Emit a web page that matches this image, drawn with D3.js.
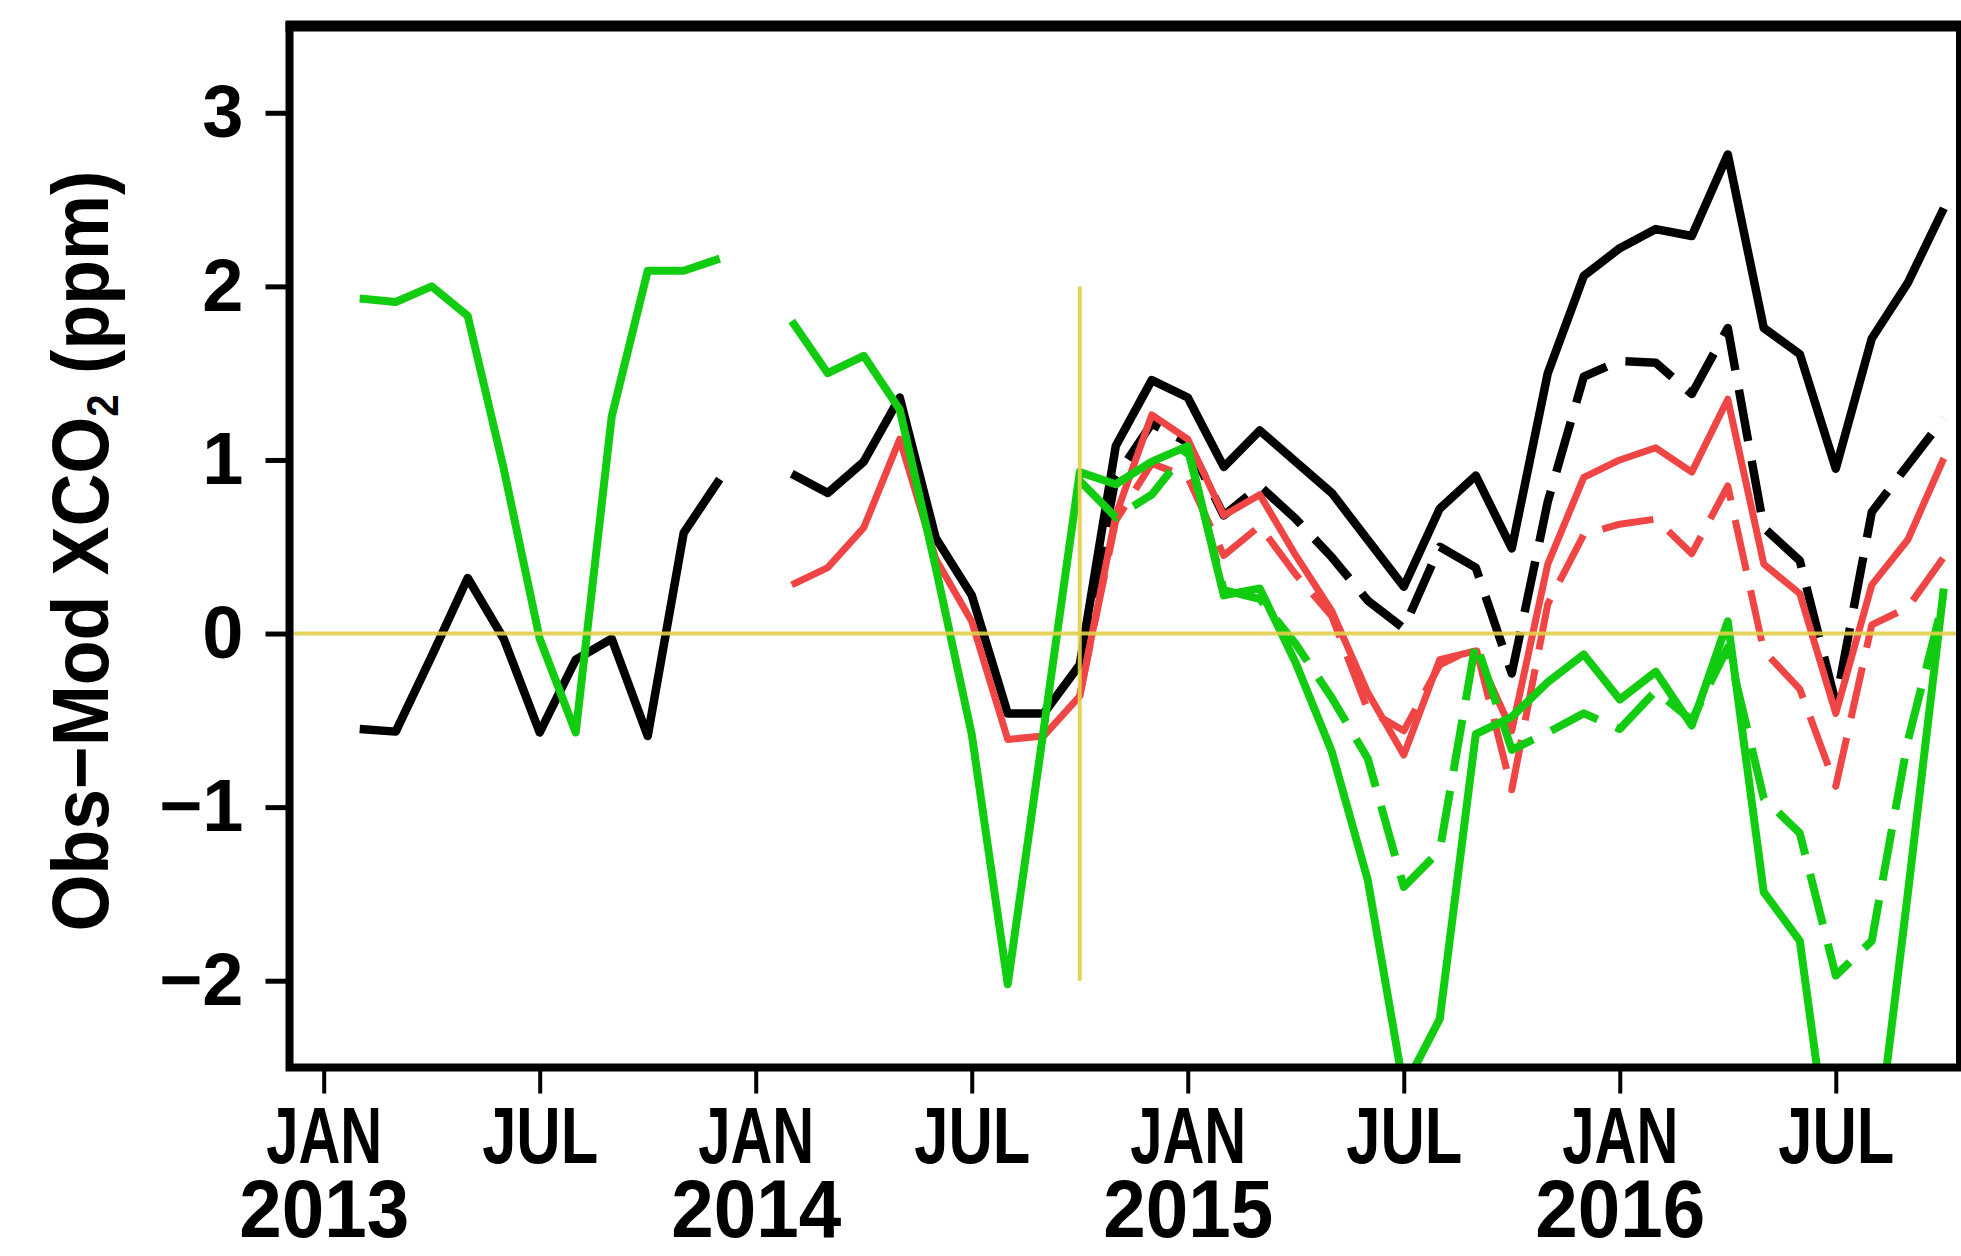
<!DOCTYPE html>
<html><head><meta charset="utf-8">
<script src="https://cdn.jsdelivr.net/npm/d3@7"></script>
<style>html,body{margin:0;padding:0;background:#fff;overflow:hidden}</style>
</head><body>
<svg id="chart" width="1961" height="1256"></svg>
<script>
// Month index 0 = JAN 2013
const xTickMonths = [0, 6, 12, 18, 24, 30, 36, 42];
const xTickLabels = ["JAN", "JUL", "JAN", "JUL", "JAN", "JUL", "JAN", "JUL"];
const yearLabels = ["2013", "", "2014", "", "2015", "", "2016", ""];
const yTicks = [3, 2, 1, 0, -1, -2];
const yTickLabels = ["3", "2", "1", "0", "\u22121", "\u22122"];
const yTitleParts = ["Obs\u2212Mod  XCO", "2", "  (ppm)"];

const blackSolid = [null, -0.55, -0.565, -0.13, 0.32, -0.03, -0.57, -0.15, -0.03, -0.59, 0.58, 0.89,
  null, 0.92, 0.81, 0.99, 1.36, 0.55, 0.22, -0.46, -0.46, -0.18,
  1.08, 1.46, 1.36, 0.96, 1.17, 0.99, 0.81, 0.54, 0.27, 0.72, 0.91, 0.49, 1.50, 2.06, 2.22, 2.33, 2.29, 2.76, 1.76, 1.61, 0.95, 1.70, 2.02, 2.45];
const blackDashed = [null, null, null, null, null, null, null, null, null, null, null, null,
  null, null, null, null, null, null, null, null, null,
  -0.20, 0.90, 1.21, 1.10, 0.68, 0.85, 0.66, 0.44, 0.19, 0.03, 0.50, 0.38, -0.23, 0.76, 1.48, 1.57, 1.56, 1.38, 1.76, 0.61, 0.42, -0.40, 0.70, 0.97, 1.24];
const redSolid = [null, null, null, null, null, null, null, null, null, null, null, null,
  null, 0.28, 0.38, 0.61, 1.12, 0.43, 0.07, -0.61, -0.59, -0.36,
  0.68, 1.26, 1.12, 0.68, 0.80, 0.45, 0.13, -0.34, -0.70, -0.15, -0.10, -0.56, 0.40, 0.90, 1.00, 1.07, 0.93, 1.35, 0.40, 0.23, -0.46, 0.28, 0.54, 1.01];
const redDashed = [null, null, null, null, null, null, null, null, null, null, null, null,
  null, null, null, null, null, null, null, null, null,
  -0.36, 0.65, 0.98, 0.90, 0.45, 0.62, 0.34, 0.10, -0.44, -0.56, -0.18, -0.08, -0.90, 0.17, 0.57, 0.63, 0.66, 0.46, 0.85, -0.10, -0.32, -0.88, 0.05, 0.15, 0.44];
const greenSolid = [null, 1.93, 1.91, 2.00, 1.83, 0.95, -0.03, -0.57, 1.25, 2.09, 2.09, 2.16,
  null, 1.80, 1.50, 1.60, 1.29, 0.38, -0.58, -2.02, -0.55, 0.93,
  0.86, 0.99, 1.08, 0.22, 0.26, -0.17, -0.68, -1.42, -2.62, -2.22, -0.58, -0.48, -0.28, -0.12, -0.38, -0.22, -0.53, 0.07, -1.49, -1.77, -3.30, -3.20, -1.50, 0.26];
const greenDashed = [null, null, null, null, null, null, null, null, null, null, null, null,
  null, null, null, null, null, null, null, null, null,
  0.88, 0.67, 0.80, 1.06, 0.25, 0.20, -0.06, -0.37, -0.72, -1.46, -1.25, -0.05, -0.67, -0.57, -0.46, -0.55, -0.33, -0.50, -0.08, -0.95, -1.15, -1.97, -1.77, -0.62, 0.20];

const zeroLineValue = 0;
const markerMonth = 21;
const markerRange = [-2, 2];

const series = [
  {values: blackDashed, color: "#000000", width: 8.5, dash: "52,20"},
  {values: blackSolid, color: "#000000", width: 8.5, dash: null},
  {values: redDashed, color: "#f04545", width: 7, dash: "52,20"},
  {values: redSolid, color: "#f04545", width: 7, dash: null},
  {values: greenDashed, color: "#12cc12", width: 8, dash: "52,20"},
  {values: greenSolid, color: "#12cc12", width: 8, dash: null}
];

const svg = d3.select("#chart");
const L = 289.5, R = 1960, T = 26, B = 1067.5;
const x = d3.scaleLinear().domain([-0.95, 45.45]).range([L, R]);
const y = d3.scaleLinear().domain([-2.5, 3.5]).range([B, T]);

svg.append("defs").append("clipPath").attr("id", "plotclip")
  .append("rect").attr("x", L).attr("y", T).attr("width", R - L).attr("height", B - T);

const plot = svg.append("g").attr("clip-path", "url(#plotclip)");
const line = d3.line()
  .defined(d => d.v !== null)
  .x(d => x(d.m))
  .y(d => y(d.v));

series.forEach(s => {
  const pts = s.values.map((v, i) => ({m: i, v: v}));
  plot.append("path")
    .attr("d", line(pts))
    .attr("fill", "none")
    .attr("stroke", s.color)
    .attr("stroke-width", s.width)
    .attr("stroke-linejoin", "round")
    .attr("stroke-linecap", "butt")
    .attr("stroke-dasharray", s.dash);
});

// yellow reference lines
plot.append("line")
  .attr("x1", L).attr("x2", R)
  .attr("y1", y(zeroLineValue)).attr("y2", y(zeroLineValue))
  .attr("stroke", "#e2d04a").attr("stroke-width", 4).attr("opacity", 0.9);
plot.append("line")
  .attr("x1", x(markerMonth)).attr("x2", x(markerMonth))
  .attr("y1", y(markerRange[1])).attr("y2", y(markerRange[0]))
  .attr("stroke", "#e2d04a").attr("stroke-width", 4).attr("opacity", 0.9);

// frame
svg.append("rect").attr("x", L).attr("y", T).attr("width", R - L).attr("height", B - T)
  .attr("fill", "none").attr("stroke", "#000").attr("stroke-width", 8);
svg.append("line").attr("x1", L - 4).attr("x2", R + 4).attr("y1", T).attr("y2", T)
  .attr("stroke", "#000").attr("stroke-width", 11);

const fontFam = "'Liberation Sans', Arial, sans-serif";

// y axis
const yAxis = d3.axisLeft(y).tickValues(yTicks).tickSize(24).tickPadding(22)
  .tickFormat((d, i) => yTickLabels[i]);
const gy = svg.append("g").attr("transform", `translate(${L},0)`).call(yAxis);
gy.select(".domain").remove();
gy.selectAll(".tick line").attr("stroke", "#000").attr("stroke-width", 5);
gy.selectAll(".tick text").attr("fill", "#000")
  .style("font-family", fontFam).style("font-size", "74px").style("font-weight", "bold");

// x axis: month name with the year on a second line, in one text element per tick
const xAxis = d3.axisBottom(x).tickValues(xTickMonths).tickSize(26).tickPadding(0)
  .tickFormat(() => "");
const gx = svg.append("g").attr("transform", `translate(0,${B})`).call(xAxis);
gx.select(".domain").remove();
gx.selectAll(".tick line").attr("stroke", "#000").attr("stroke-width", 4);
gx.selectAll(".tick text").each(function(d, i) {
  const t = d3.select(this).text(null)
    .attr("fill", "#000").attr("y", null).attr("dy", null)
    .style("font-family", fontFam).style("font-weight", "bold");
  t.append("tspan").attr("x", 0).attr("y", 95)
    .attr("textLength", 116).attr("lengthAdjust", "spacingAndGlyphs")
    .style("font-size", "80px").text(xTickLabels[i]);
  if (yearLabels[i]) {
    t.append("tspan").attr("x", 0).attr("y", 169.5)
      .attr("textLength", 170).attr("lengthAdjust", "spacingAndGlyphs")
      .style("font-size", "82px").text(yearLabels[i]);
  }
});

// y title
const yt = svg.append("text")
  .attr("transform", "translate(108,551) rotate(-90)")
  .attr("text-anchor", "middle")
  .attr("textLength", 761).attr("lengthAdjust", "spacingAndGlyphs")
  .style("font-family", fontFam).style("font-size", "80px").style("font-weight", "bold")
  .attr("fill", "#000");
yt.append("tspan").text(yTitleParts[0]);
yt.append("tspan").attr("dy", 10).style("font-size", "44px").text(yTitleParts[1]);
yt.append("tspan").attr("dy", -10).text(yTitleParts[2]);
</script>
</body></html>
